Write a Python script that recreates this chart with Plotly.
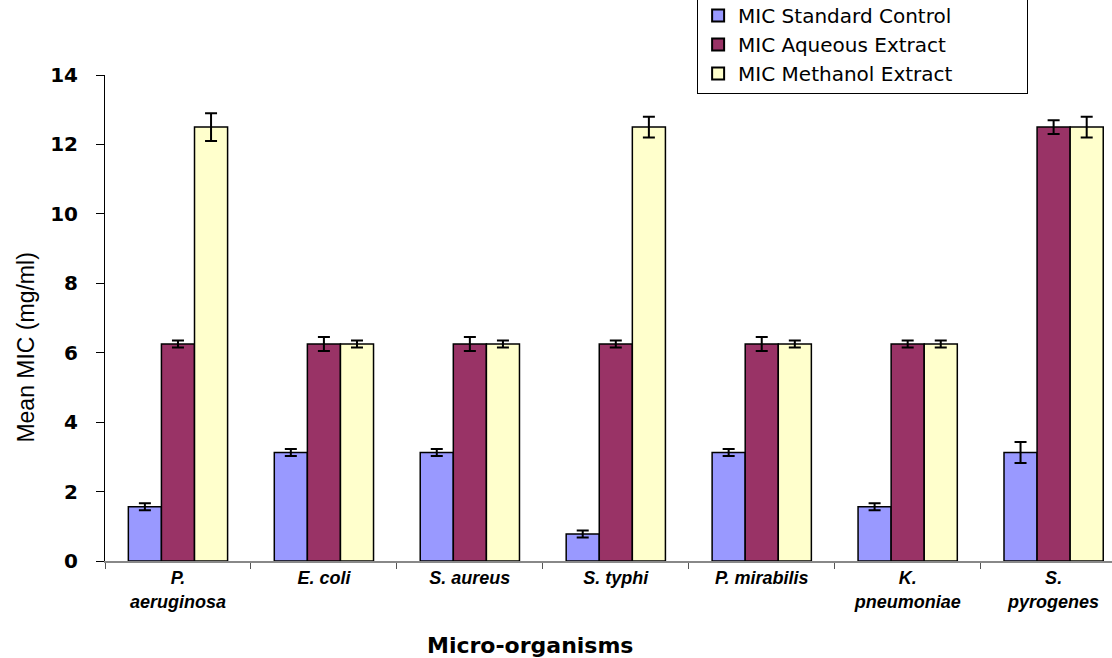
import plotly.graph_objects as go

categories = ["P.<br>aeruginosa", "E. coli", "S. aureus", "S. typhi",
              "P. mirabilis", "K.<br>pneumoniae", "S.<br>pyrogenes"]
standard = [1.5625, 3.125, 3.125, 0.78, 3.125, 1.5625, 3.125]
standard_err = [0.1, 0.1, 0.1, 0.1, 0.1, 0.1, 0.3]
aqueous = [6.25, 6.25, 6.25, 6.25, 6.25, 6.25, 12.5]
aqueous_err = [0.1, 0.2, 0.2, 0.1, 0.2, 0.1, 0.2]
methanol = [12.5, 6.25, 6.25, 12.5, 6.25, 6.25, 12.5]
methanol_err = [0.4, 0.1, 0.1, 0.3, 0.1, 0.1, 0.3]
series_names = ["MIC Standard Control", "MIC Aqueous Extract", "MIC Methanol Extract"]
colors = ["#9999FF", "#993366", "#FFFFCC"]

pad = "\u00a0" * 11  # widen legend box to match reference

fig = go.Figure()
for i, (name, vals, errs, col) in enumerate(zip(series_names, [standard, aqueous, methanol],
                                 [standard_err, aqueous_err, methanol_err], colors)):
    fig.add_trace(go.Bar(
        x=categories, y=vals, name=name + (pad if i == 0 else ""),
        marker=dict(color=col, line=dict(color="black", width=1.5)),
        error_y=dict(type="data", array=errs, color="black", thickness=2, width=6),
    ))

fig.update_layout(
    width=1112, height=658,
    margin=dict(l=105, r=0, t=75, b=97, autoexpand=False),
    paper_bgcolor="white", plot_bgcolor="white",
    barmode="group", bargap=0.32, bargroupgap=0,
    showlegend=True,
    legend=dict(x=0.588, y=1.1646, xanchor="left", yanchor="top",
                bgcolor="white", bordercolor="black", borderwidth=1,
                font=dict(family="DejaVu Sans", size=20, color="black"),
                tracegroupgap=0, itemsizing="constant"),
    xaxis=dict(range=[-0.5, 6.4], showline=True, linecolor="#888888", linewidth=1.5,
               ticks="outside", tickson="boundaries", ticklen=6, tickcolor="#555555",
               tickfont=dict(family="Arial", size=18, color="black",
                             weight="bold", style="italic"),
               showgrid=False, zeroline=False),
    yaxis=dict(range=[0, 14], dtick=2, showline=True, linecolor="black", linewidth=1,
               ticks="outside", ticklen=8, tickcolor="black", ticklabelstandoff=14,
               tickfont=dict(family="DejaVu Sans", size=20, color="black", weight="bold"),
               showgrid=False, zeroline=False),
    font=dict(family="Arial"),
)

fig.add_annotation(text="Mean MIC (mg/ml)", xref="paper", yref="paper",
                   x=-0.078, y=0.44, xanchor="center", yanchor="middle", textangle=-90,
                   showarrow=False,
                   font=dict(family="Arial", size=23, color="black"))
fig.add_annotation(text="Micro-organisms", xref="paper", yref="paper",
                   x=0.422, y=-0.174, xanchor="center", yanchor="middle",
                   showarrow=False,
                   font=dict(family="DejaVu Sans", size=22, color="black", weight="bold"))

fig.write_html("out.html", config={"displayModeBar": False},
               post_script="document.body.style.margin='0';document.body.style.overflow='hidden';")
